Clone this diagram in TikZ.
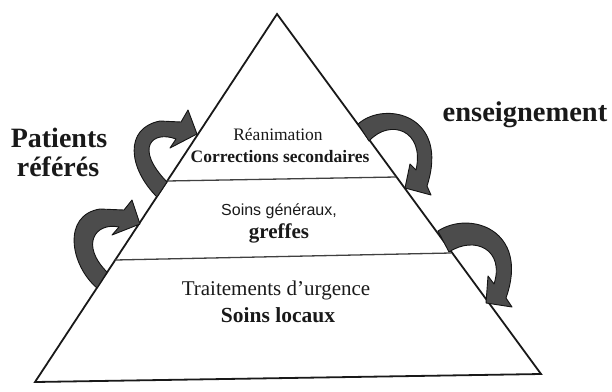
\documentclass[tikz,border=0pt]{standalone}
\usepackage{fontspec}
\setmainfont{Liberation Serif}
\newfontfamily\sansf{Liberation Sans}
\begin{document}
\begin{tikzpicture}[x=1pt,y=-1pt,
  edge/.style={draw=black!90,line width=1.8pt,line join=miter},
  divider/.style={draw=black!75,line width=1.3pt},
  bandarrow/.style={fill=black!70,draw=black!92,line width=0.9pt,line join=round},
  lbl/.style={inner sep=0pt,anchor=base,text=black!90}]
\useasboundingbox (0,0) rectangle (612,391);
% pyramid
\coordinate (apex) at (277,14);
\coordinate (bl) at (35,382);
\coordinate (br) at (541,374);
\draw[edge] (apex) -- (bl) -- (br) -- cycle;
\coordinate (d1l) at (167,181);
\coordinate (d1r) at (396,177);
\coordinate (d2l) at (115,260);
\coordinate (d2r) at (451,253);
\draw[divider] (d1l) -- (d1r);
\draw[divider] (d2l) -- (d2r);
% texts inside
\node[lbl,font=\fontsize{17.5}{19}\selectfont] (rea) at (278,140) {Réanimation};
\node[lbl,font=\fontsize{17.5}{19}\selectfont\bfseries] (cor) at (280,162) {Corrections secondaires};
\node[lbl,font=\sansf\fontsize{16}{18}\selectfont] (sg) at (279,215) {Soins généraux,};
\node[lbl,font=\fontsize{21}{23}\selectfont\bfseries] (gr) at (279,238) {greffes};
\node[lbl,font=\fontsize{21}{23}\selectfont] (tu) at (276,295) {Traitements d’urgence};
\node[lbl,font=\fontsize{21.5}{23}\selectfont\bfseries] (sl) at (278,322) {Soins locaux};
% outside labels
\node[lbl,font=\fontsize{28}{30}\selectfont\bfseries] (pat) at (59,147) {Patients};
\node[lbl,font=\fontsize{28}{30}\selectfont\bfseries] (ref) at (58,176) {référés};
\node[lbl,font=\fontsize{28.5}{30}\selectfont\bfseries] (ens) at (525,121) {enseignement};
% upper left arrow
\draw[bandarrow] (157,197) .. controls (128,168) and (124,128) .. (160,121)
  -- (181,122) -- (188,110) -- (197,134) -- (170,148) -- (176,139)
  .. controls (152,130) and (134,148) .. (167,182) -- cycle;
% lower left arrow
\draw[bandarrow] (97,288) .. controls (70,265) and (62,215) .. (100,209)
  -- (124,210) -- (132,200) -- (140,224) -- (112,235) -- (119,227)
  .. controls (95,222) and (80,245) .. (107,272) -- cycle;
% upper right arrow
\draw[bandarrow] (358,124) .. controls (385,100) and (450,115) .. (427,186)
  -- (431,195) -- (405,188) -- (410,164) -- (416,170)
  .. controls (425,130) and (390,118) .. (369,141) -- cycle;
% lower right arrow
\draw[bandarrow] (438,231) .. controls (470,210) and (530,230) .. (506,298)
  -- (512,307) -- (486,303) -- (488,276) -- (494,284)
  .. controls (505,250) and (475,235) .. (449,252) -- cycle;
\end{tikzpicture}
\end{document}
